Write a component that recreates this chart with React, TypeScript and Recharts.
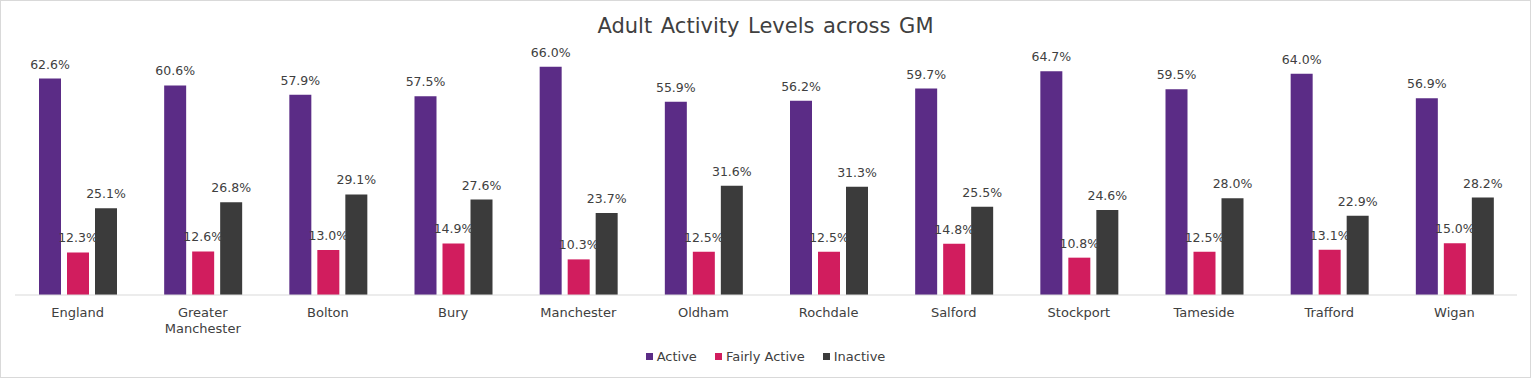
import React from "react";
import { Bar, BarChart, LabelList, Legend, Text, XAxis, YAxis } from "recharts";

const categories = [
  "England",
  "Greater Manchester",
  "Bolton",
  "Bury",
  "Manchester",
  "Oldham",
  "Rochdale",
  "Salford",
  "Stockport",
  "Tameside",
  "Trafford",
  "Wigan",
];
const active = [62.6, 60.6, 57.9, 57.5, 66.0, 55.9, 56.2, 59.7, 64.7, 59.5, 64.0, 56.9];
const fairlyActive = [12.3, 12.6, 13.0, 14.9, 10.3, 12.5, 12.5, 14.8, 10.8, 12.5, 13.1, 15.0];
const inactive = [25.1, 26.8, 29.1, 27.6, 23.7, 31.6, 31.3, 25.5, 24.6, 28.0, 22.9, 28.2];

const series = [
  { key: "active", name: "Active", color: "#5B2C86" },
  { key: "fairly", name: "Fairly Active", color: "#D11D5E" },
  { key: "inactive", name: "Inactive", color: "#3B3B3B" },
];

const data = categories.map((name, i) => ({
  name,
  active: active[i],
  fairly: fairlyActive[i],
  inactive: inactive[i],
}));

const FONT = "Verdana, 'DejaVu Sans', sans-serif";
const TEXT = "#404040";

const CategoryTick = (props: any) => {
  const { x, y, payload } = props;
  return (
    <Text
      x={x}
      y={y + 5}
      width={110}
      textAnchor="middle"
      verticalAnchor="start"
      lineHeight={16}
      fontSize={13}
      fontFamily={FONT}
      fill={TEXT}
    >
      {payload.value}
    </Text>
  );
};

const renderLegend = () => (
  <div
    style={{
      display: "flex",
      justifyContent: "center",
      fontFamily: FONT,
      fontSize: 13,
      color: TEXT,
      gap: 18,
    }}
  >
    {series.map((s) => (
      <div key={s.key} style={{ display: "flex", alignItems: "center" }}>
        <span
          style={{ width: 7, height: 7, background: s.color, marginRight: 4, display: "inline-block" }}
        />
        <span>{s.name}</span>
      </div>
    ))}
  </div>
);

export default function App() {
  return (
    <div
      style={{
        position: "absolute",
        left: 0,
        top: 0,
        width: 1531,
        height: 378,
        boxSizing: "border-box",
        border: "1px solid #d9d9d9",
        background: "#fff",
      }}
    >
      <div
        style={{
          position: "absolute",
          top: 13,
          width: "100%",
          textAlign: "center",
          fontFamily: FONT,
          fontSize: 21,
          color: TEXT,
          wordSpacing: 2,
        }}
      >
        Adult Activity Levels across GM
      </div>
      <BarChart
        width={1529}
        height={376}
        data={data}
        margin={{ top: 52, right: 13, left: 14, bottom: 42 }}
        barSize={22}
        barGap={6}
      >
        <XAxis
          dataKey="name"
          axisLine={{ stroke: "#d9d9d9" }}
          tickLine={false}
          interval={0}
          height={40}
          tick={<CategoryTick />}
        />
        <YAxis hide domain={[0, 70]} />
        <Legend
          verticalAlign="middle"
          align="center"
          content={renderLegend}
          wrapperStyle={{ top: 348, left: 0, width: 1529 }}
        />
        {series.map((s) => (
          <Bar key={s.key} dataKey={s.key} name={s.name} fill={s.color} isAnimationActive={false}>
            <LabelList
              dataKey={s.key}
              position="top"
              offset={10}
              formatter={(v: any) => `${Number(v).toFixed(1)}%`}
              style={{ fontFamily: FONT, fontSize: 12.5, fill: TEXT }}
            />
          </Bar>
        ))}
      </BarChart>
    </div>
  );
}
